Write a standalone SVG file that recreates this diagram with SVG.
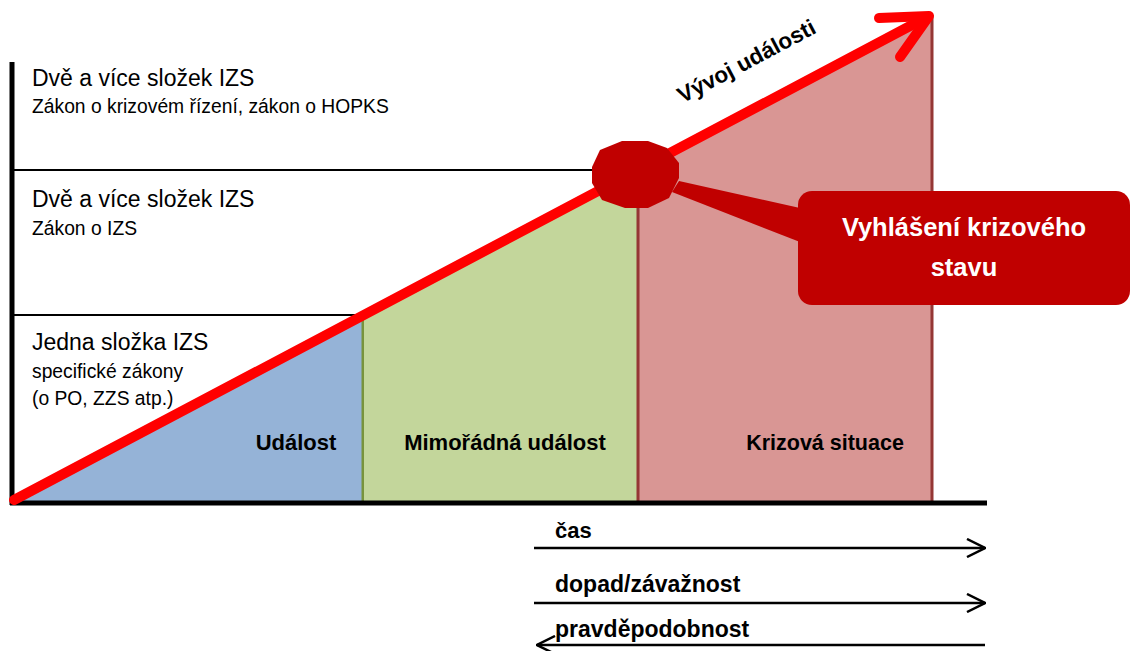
<svg xmlns="http://www.w3.org/2000/svg" width="1131" height="651" viewBox="0 0 1131 651">
<style>
  text { font-family: "Liberation Sans", Arial, sans-serif; fill: #000; }
  .lvl { font-size: 23px; }
  .sub { font-size: 19.3px; }
  .reg { font-size: 22px; font-weight: bold; text-anchor: middle; }
  .ax { font-size: 23px; font-weight: bold; }
  .call { font-size: 25.5px; font-weight: bold; fill: #fff; text-anchor: middle; }
  .grid { stroke: #000; stroke-width: 2; }
  .axis { stroke: #000; stroke-width: 5; }
  .arr { stroke: #000; stroke-width: 2.5; fill: none; }
</style>
<defs>
  <marker id="chev" viewBox="0 0 20 20" refX="19" refY="10" markerWidth="20" markerHeight="20" markerUnits="userSpaceOnUse" orient="auto">
    <path d="M1,1 L19,10 L1,19" fill="none" stroke="#000" stroke-width="2.5"/>
  </marker>
</defs>
<rect width="1131" height="651" fill="#fff"/>

<g id="region-udalost">
  <polygon points="14,500 363,315 363,501 14,501" fill="#95B3D7"/>
  <line x1="363" y1="315" x2="363" y2="501" stroke="#77933C" stroke-width="3"/>
  <text class="reg" x="296" y="450">Událost</text>
</g>
<g id="region-mimoradna">
  <polygon points="364,315 638,170 638,501 364,501" fill="#C3D69B"/>
  <text class="reg" x="505" y="450">Mimořádná událost</text>
</g>
<g id="region-krizova">
  <polygon points="639,170 932,15 932,501 639,501" fill="#D99694"/>
  <line x1="638" y1="205" x2="638" y2="501" stroke="#953735" stroke-width="3"/>
  <line x1="932" y1="15" x2="932" y2="501" stroke="#953735" stroke-width="3"/>
  <text class="reg" x="825" y="450" style="font-size:21.5px">Krizová situace</text>
</g>

<g id="grid">
  <line class="grid" x1="14" y1="170" x2="600" y2="170"/>
  <line class="grid" x1="14" y1="315" x2="363" y2="315"/>
</g>

<g id="axes">
  <line class="axis" x1="12" y1="62" x2="12" y2="505"/>
  <line class="axis" x1="10" y1="503" x2="987" y2="503"/>
</g>

<g id="level-3">
  <text class="lvl" x="32" y="86">Dvě a více složek IZS</text>
  <text class="sub" x="32" y="113">Zákon o krizovém řízení, zákon o HOPKS</text>
</g>
<g id="level-2">
  <text class="lvl" x="32" y="207">Dvě a více složek IZS</text>
  <text class="sub" x="32" y="235">Zákon o IZS</text>
</g>
<g id="level-1">
  <text class="lvl" x="32" y="350">Jedna složka IZS</text>
  <text class="sub" x="32" y="378">specifické zákony</text>
  <text class="sub" x="32" y="405">(o PO, ZZS atp.)</text>
</g>

<g id="connectors">
  <line x1="14" y1="500" x2="927" y2="17" stroke="#FF0000" stroke-width="10" stroke-linecap="round"/>
  <path d="M879,18 L929,16 L900,57" fill="none" stroke="#FF0000" stroke-width="10" stroke-linecap="round" stroke-linejoin="round"/>
  <polygon points="679,181 800,208 800,242 672,192" fill="#C00000"/>
  <line class="arr" x1="534" y1="548" x2="985" y2="548" marker-end="url(#chev)"/>
  <line class="arr" x1="534" y1="603" x2="985" y2="603" marker-end="url(#chev)"/>
  <line class="arr" x1="985" y1="645" x2="537" y2="645" marker-end="url(#chev)"/>
</g>

<g id="vyvoj-label">
  <text x="0" y="0" transform="translate(750,68) rotate(-27.8)" text-anchor="middle" style="font-size:22.5px;font-weight:bold">Vývoj události</text>
</g>

<g id="octagon">
  <polygon points="622,141 648,141 667,148 679,163 679,178 669,198 648,208 625,208 602,200 592,183 592,167 600,150" fill="#C00000"/>
</g>

<g id="callout">
  <rect x="798" y="191" width="332" height="114" rx="14" fill="#C00000"/>
  <text class="call" x="964" y="236">Vyhlášení krizového</text>
  <text class="call" x="964" y="276">stavu</text>
</g>

<g id="axis-labels">
  <text class="ax" x="555" y="538" style="font-size:22px">čas</text>
  <text class="ax" x="555" y="592">dopad/závažnost</text>
  <text class="ax" x="555" y="637">pravděpodobnost</text>
</g>
</svg>
